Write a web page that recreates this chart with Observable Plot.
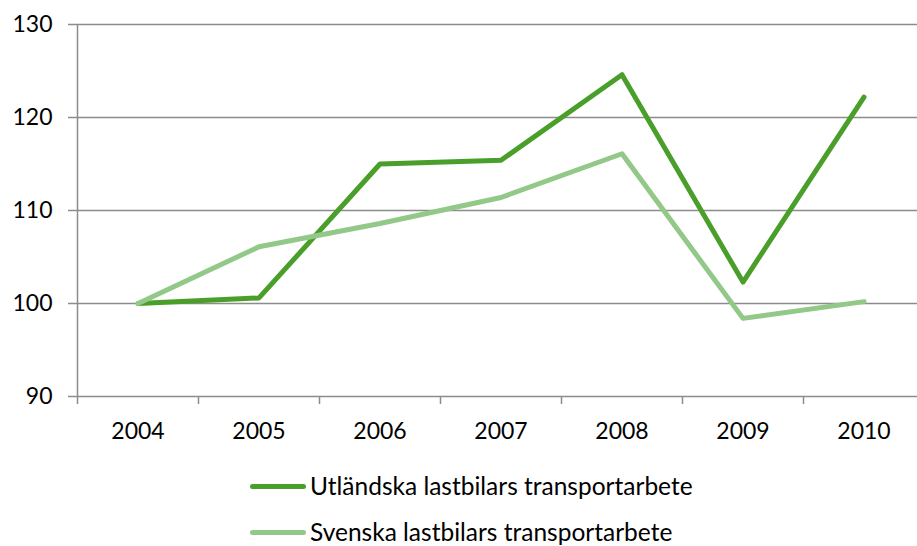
<!DOCTYPE html>
<html>
<head>
<meta charset="utf-8">
<script src="https://cdn.jsdelivr.net/npm/d3@7"></script>
<script src="https://cdn.jsdelivr.net/npm/@observablehq/plot@0.6"></script>
<style>
  html, body { margin: 0; padding: 0; background: #fff; }
  #wrap { position: relative; width: 917px; height: 546px; overflow: hidden; font-family: Lato, "Noto Sans", sans-serif; }
  #chart svg { display: block; }
  .leg { position: absolute; left: 250px; display: flex; align-items: center; font-size: 24.5px; color: #000; white-space: nowrap; line-height: 1; }
  .leg .sw { width: 56px; height: 5px; border-radius: 3px; margin-right: 4px; }
</style>
</head>
<body>
<div id="wrap">
  <div id="chart"></div>
  <div class="leg" id="leg1" style="top:474px"><div class="sw" style="background:#4a9f2b"></div><span>Utländska lastbilars transportarbete</span></div>
  <div class="leg" id="leg2" style="top:520px"><div class="sw" style="background:#92c888"></div><span>Svenska lastbilars transportarbete</span></div>
</div>
<script>
const years = [2004, 2005, 2006, 2007, 2008, 2009, 2010];
const utlandska = [100, 100.6, 115.0, 115.4, 124.6, 102.3, 122.2];
const svenska = [100, 106.1, 108.6, 111.4, 116.1, 98.4, 100.2];
const yTicks = [90, 100, 110, 120, 130];
const xBounds = [2003.5, 2004.5, 2005.5, 2006.5, 2007.5, 2008.5, 2009.5, 2010.5];

const utlData = years.map((y, i) => ({year: y, value: utlandska[i]}));
const sveData = years.map((y, i) => ({year: y, value: svenska[i]}));

const gray = "#8c8c8c";

const chart = Plot.plot({
  width: 917,
  height: 460,
  marginLeft: 77,
  marginRight: 0,
  marginTop: 24,
  marginBottom: 64,
  x: {domain: [2003.5, 2010.5], range: [77, 924], label: null},
  y: {domain: [90, 130], label: null},
  style: {fontFamily: "Lato, 'Noto Sans', sans-serif", fontSize: "23px", color: "#000", background: "#fff", overflow: "hidden"},
  marks: [
    Plot.gridY(yTicks, {stroke: gray, strokeOpacity: 1, strokeWidth: 1.5}),
    Plot.axisY(yTicks, {label: null, tickSize: 9, tickPadding: 16, stroke: gray, strokeWidth: 1.5, strokeOpacity: 1, tickFormat: d => String(d), fill: "#000"}),
    Plot.ruleX([2003.5], {y1: 90, y2: 130, stroke: gray, strokeWidth: 1.5}),
    Plot.axisX(xBounds, {label: null, tickSize: 8, stroke: gray, strokeWidth: 1.5, strokeOpacity: 1, tickFormat: () => ""}),
    Plot.axisX(years, {label: null, tickSize: 0, tickPadding: 26, tickFormat: d => String(d), fill: "#000"}),
    Plot.lineY(utlData, {x: "year", y: "value", stroke: "#4a9f2b", strokeWidth: 5, strokeLinecap: "round"}),
    Plot.lineY(sveData, {x: "year", y: "value", stroke: "#92c888", strokeWidth: 5, strokeLinecap: "round"})
  ]
});
document.getElementById("chart").append(chart);
</script>
</body>
</html>
